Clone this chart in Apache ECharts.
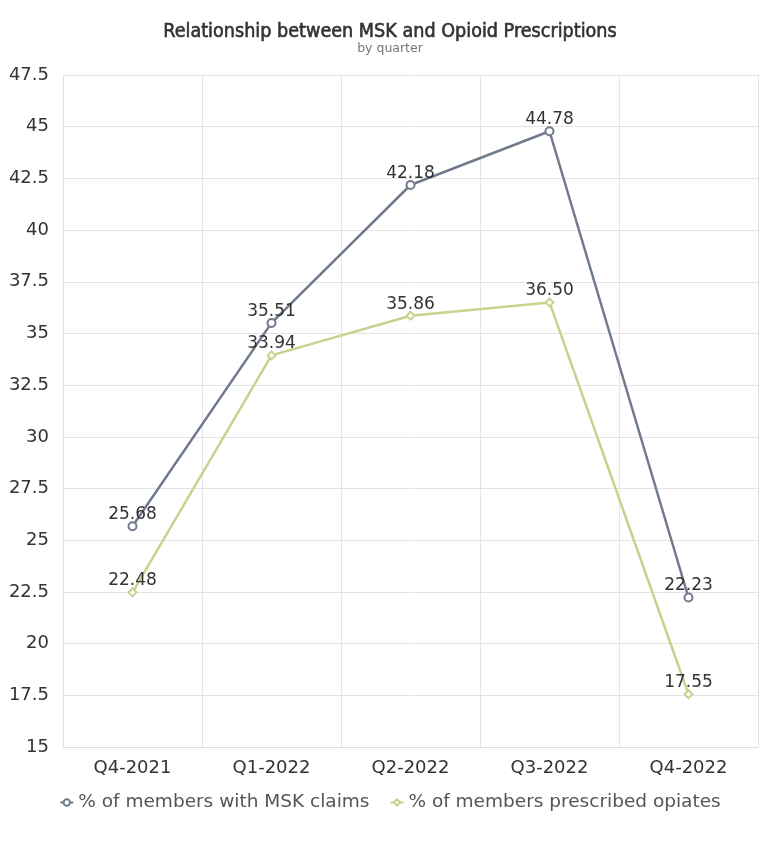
<!DOCTYPE html>
<html><head><meta charset="utf-8">
<script src="https://cdn.jsdelivr.net/npm/echarts@6/dist/echarts.min.js"></script>
<style>html,body{margin:0;padding:0;background:#fff}#c{width:780px;height:841px}</style>
</head><body><div id="c"></div>
<script>
const categories = ['Q4-2021','Q1-2022','Q2-2022','Q3-2022','Q4-2022'];
const mskClaims = [25.68, 35.51, 42.18, 44.78, 22.23];
const opiates = [22.48, 33.94, 35.86, 36.50, 17.55];
const seriesNames = ['% of members with MSK claims','% of members prescribed opiates'];

const chart = echarts.init(document.getElementById('c'), null, {renderer:'canvas'});
const font = 'DejaVu Sans';
chart.setOption({
  animation:false,
  backgroundColor:'#fff',
  title:{
    text:'Relationship between MSK and Opioid Prescriptions',
    subtext:'by quarter',
    left:'center', top:17, itemGap:0,
    textStyle:{fontFamily:'DejaVu Sans Condensed', fontSize:19.6, fontWeight:'normal', color:'#333', textBorderColor:'#333', textBorderWidth:0.6},
    subtextStyle:{fontFamily:font, fontSize:12.5, color:'#777'}
  },
  legend:{
    bottom:24, left:'center', itemWidth:13, itemHeight:8, itemGap:20,
    textStyle:{fontFamily:font, fontSize:18.5, color:'#555'},
    data:seriesNames
  },
  grid:{left:63, right:22, top:75, bottom:94},
  xAxis:{
    type:'category', data:categories, boundaryGap:true,
    axisLine:{lineStyle:{color:'#ddd'}},
    axisTick:{show:false},
    axisLabel:{fontFamily:font, fontSize:18, color:'#333', margin:12},
    splitLine:{show:true, lineStyle:{color:'#e4e4e4'}}
  },
  yAxis:{
    type:'value', min:15, max:47.5, interval:2.5,
    axisLine:{show:false}, axisTick:{show:false},
    axisLabel:{fontFamily:font, fontSize:18, color:'#333', margin:14},
    splitLine:{lineStyle:{color:'#e4e4e4'}}
  },
  series:[
    {name:seriesNames[0], type:'line', data:mskClaims, symbol:'emptyCircle', symbolSize:8,
     color:'#6f7b8c', lineStyle:{width:2.5}, itemStyle:{borderWidth:2},
     label:{show:true, position:'top', distance:0, offset:[0,2], fontFamily:font, fontSize:17, color:'#333', formatter:p=>p.value.toFixed(2)}},
    {name:seriesNames[1], type:'line', data:opiates, symbol:'emptyDiamond', symbolSize:8,
     color:'#c5d48c', lineStyle:{width:2.5}, itemStyle:{borderWidth:2},
     label:{show:true, position:'top', distance:0, offset:[0,2], fontFamily:font, fontSize:17, color:'#333', formatter:p=>p.value.toFixed(2)}}
  ]
});
</script></body></html>
